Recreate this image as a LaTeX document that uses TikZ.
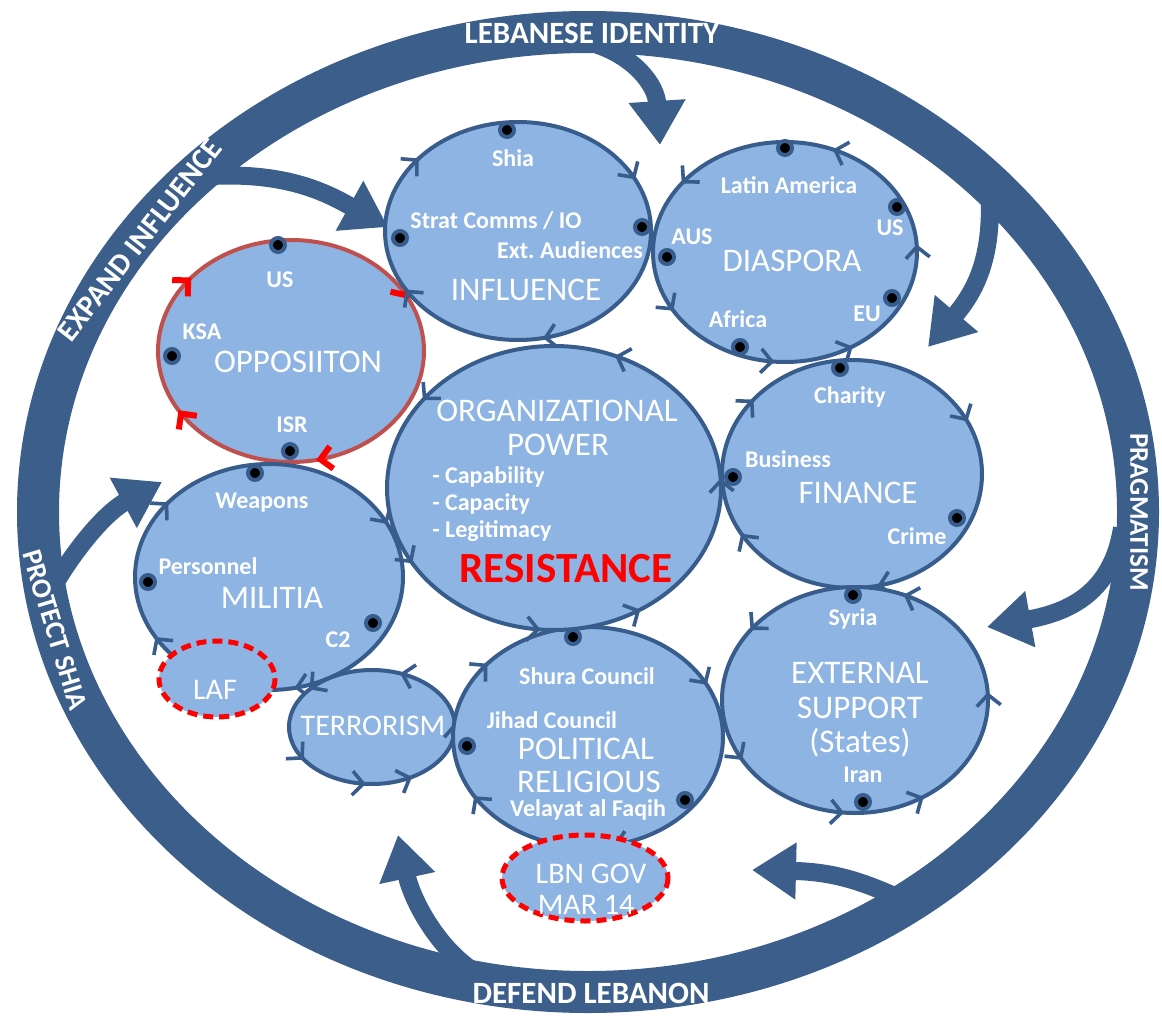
\documentclass[tikz,border=0pt]{standalone}
\usepackage{fontspec}
\setmainfont{Carlito}
\usetikzlibrary{arrows.meta,decorations.markings}

\definecolor{ringblue}{RGB}{59,94,139}
\definecolor{edgeblue}{RGB}{56,93,140}
\definecolor{bubblefill}{RGB}{141,180,226}
\definecolor{oppred}{RGB}{192,80,77}

\begin{document}
\begin{tikzpicture}[x=0.5pt,y=-0.5pt,
  flowtip/.tip={Straight Barb[length=5.5pt,width=12pt,line width=1.8pt]},
  stoptip/.tip={Straight Barb[angle=90:8pt,line width=3pt]},
  ring/.style={draw=ringblue, line width=21pt},
  bigarrow/.style={draw=ringblue, line width=9pt, -{Triangle[length=22pt,width=27pt]}},
  bubble/.style={draw=edgeblue, fill=bubblefill, line width=2pt},
  oppbubble/.style={draw=oppred, fill=bubblefill, line width=2pt},
  dashbubble/.style={draw=red, fill=bubblefill, line width=2.5pt, dash pattern=on 5pt off 3pt},
  cwflow/.style={postaction={decorate,decoration={markings,
      mark=at position 0.217 with {\arrow{flowtip}},
      mark=at position 0.417 with {\arrow{flowtip}},
      mark=at position 0.608 with {\arrow{flowtip}},
      mark=at position 0.928 with {\arrow{flowtip}}}}},
  ccwflow/.style={postaction={decorate,decoration={markings,
      mark=at position 0.158 with {\arrowreversed{flowtip}},
      mark=at position 0.264 with {\arrowreversed{flowtip}},
      mark=at position 0.417 with {\arrowreversed{flowtip}},
      mark=at position 0.600 with {\arrowreversed{flowtip}},
      mark=at position 0.814 with {\arrowreversed{flowtip}},
      mark=at position 0.990 with {\arrowreversed{flowtip}}}}},
  stopflow/.style={postaction={decorate,decoration={markings,
      mark=at position 0.217 with {\arrow[red]{stoptip}},
      mark=at position 0.417 with {\arrow[red]{stoptip}},
      mark=at position 0.608 with {\arrow[red]{stoptip}},
      mark=at position 0.928 with {\arrow[red]{stoptip}}}}},
  dot/.style={circle, fill=black, draw=edgeblue, line width=2pt, inner sep=0pt, minimum size=7pt},
  headlbl/.style={text=white, inner sep=0.5pt, font=\fontsize{16.5}{18}\selectfont},
  otherlbl/.style={text=white, inner sep=0.5pt, font=\fontsize{15}{16}\selectfont},
  itemlbl/.style={text=white, inner sep=0.5pt, font=\bfseries\fontsize{12}{13}\selectfont},
  ringlbl/.style={text=white, inner sep=0.5pt, font=\bfseries\fontsize{#1}{#1}\selectfont},
  ringlbl/.default=15]

  % canvas
  \fill[white] (0,0) rectangle (1162,1022);
  \useasboundingbox (0,0) rectangle (1162,1022);

  % outer ring
  \coordinate (mid) at (588,512);
  \draw[ring] (mid) ellipse [x radius=550, y radius=480];

  % thick arrows off the ring
  \coordinate (a1s) at (598,45);   \coordinate (a1e) at (660,145);
  \coordinate (a2s) at (212,176);  \coordinate (a2e) at (388,227);
  \coordinate (a3s) at (989,180);  \coordinate (a3e) at (928,347);
  \coordinate (a4s) at (1122,528); \coordinate (a4e) at (987,627);
  \coordinate (a5s) at (908,902);  \coordinate (a5e) at (752,870);
  \coordinate (a6s) at (485,978);  \coordinate (a6e) at (398,835);
  \coordinate (a7s) at (50,592);   \coordinate (a7e) at (162,482);
  \draw[bigarrow] (a1s) .. controls (635,58) and (656,85) .. (a1e);
  \draw[bigarrow] (a2s) .. controls (290,172) and (330,195) .. (a2e);
  \draw[bigarrow] (a3s) .. controls (993,240) and (985,280) .. (a3e);
  \draw[bigarrow] (a4s) .. controls (1112,592) and (1070,612) .. (a4e);
  \draw[bigarrow] (a5s) .. controls (870,885) and (840,872) .. (a5e);
  \draw[bigarrow] (a6s) .. controls (440,955) and (412,900) .. (a6e);
  \draw[bigarrow] (a7s) .. controls (80,540) and (110,510) .. (a7e);

  % ring labels
  \node[ringlbl=15.5] (identity) at (592,33) {LEBANESE IDENTITY};
  \node[ringlbl=15, rotate=52] (expand) at (140,240) {EXPAND INFLUENCE};
  \node[ringlbl=14, rotate=-73] (protect) at (55,630) {PROTECT SHIA};
  \node[ringlbl=13.5, rotate=-90] (pragma) at (1139,512) {PRAGMATISM};
  \node[ringlbl=15.5] (defend) at (591,993) {DEFEND LEBANON};

  % bubbles
  \coordinate (opp) at (291,351);
  \coordinate (infl) at (518,231);
  \coordinate (dias) at (785,252);
  \coordinate (fin) at (852,474);
  \coordinate (ext) at (855,700);
  \coordinate (mil) at (269,577);
  \coordinate (terr) at (372,727);
  \coordinate (pol) at (588,737);
  \coordinate (org) at (554,488);
  \coordinate (laf) at (217,679);
  \coordinate (gov) at (585,878);
  \draw[oppbubble, stopflow] (opp) ellipse [x radius=133, y radius=111];
  \draw[bubble, cwflow] (infl) ellipse [x radius=133, y radius=109];
  \draw[bubble, ccwflow] (dias) ellipse [x radius=132, y radius=110];
  \draw[bubble, cwflow] (fin) ellipse [x radius=130, y radius=114];
  \draw[bubble, ccwflow] (ext) ellipse [x radius=133, y radius=113];
  \draw[bubble, cwflow] (mil) ellipse [x radius=134, y radius=113];
  \draw[bubble, ccwflow] (terr) ellipse [x radius=83, y radius=57];
  \draw[bubble, cwflow] (pol) ellipse [x radius=135, y radius=110];
  \draw[bubble, ccwflow] (org) ellipse [x radius=167, y radius=142];
  \draw[dashbubble] (laf) ellipse [x radius=58, y radius=38];
  \draw[dashbubble] (gov) ellipse [x radius=83, y radius=43];

  % member dots
  \foreach \p [count=\i] in {(507,130),(400,238),(642,227),
      (785,148),(897,207),(667,257),(892,298),(740,347),
      (278,245),(172,356),(290,451),
      (840,368),(733,477),(957,518),
      (255,473),(148,582),(373,623),
      (853,595),(863,802),
      (573,637),(467,746),(685,800)}
    \node[dot] (dot\i) at \p {};

  % influence
  \node[itemlbl] (shia) at (513,158) {Shia};
  \node[itemlbl] (strat) at (496,221) {Strat Comms / IO};
  \node[itemlbl] (audi) at (570,250) {Ext.\ Audiences};
  \node[headlbl] (inflT) at (526,290) {INFLUENCE};

  % diaspora
  \node[itemlbl] (latam) at (789,185) {Latin America};
  \node[itemlbl] (aus) at (692,237) {AUS};
  \node[itemlbl] (usD) at (890,228) {US};
  \node[headlbl] (diasT) at (792,261) {DIASPORA};
  \node[itemlbl] (africa) at (738,319) {Africa};
  \node[itemlbl] (eu) at (867,314) {EU};

  % opposition
  \node[itemlbl] (usO) at (280,280) {US};
  \node[itemlbl] (ksa) at (202,332) {KSA};
  \node[headlbl] (oppT) at (298,362) {OPPOSIITON};
  \node[itemlbl] (isr) at (292,425) {ISR};

  % organizational power
  \node[headlbl] (orgT) at (557,411) {ORGANIZATIONAL};
  \node[headlbl] (power) at (558,445) {POWER};
  \node[itemlbl, anchor=west] (capab) at (431,477) {- Capability};
  \node[itemlbl, anchor=west] (capac) at (431,504) {- Capacity};
  \node[itemlbl, anchor=west] (legit) at (431,531) {- Legitimacy};
  \node[text=red, inner sep=0.5pt, font=\bfseries\fontsize{21.5}{22}\selectfont] (resist) at (566,569) {RESISTANCE};

  % finance
  \node[itemlbl] (charity) at (850,397) {Charity};
  \node[itemlbl] (business) at (788,459) {Business};
  \node[headlbl] (finT) at (858,493) {FINANCE};
  \node[itemlbl] (crime) at (917,536) {Crime};

  % militia
  \node[itemlbl] (weapons) at (262,503) {Weapons};
  \node[itemlbl] (person) at (208,566) {Personnel};
  \node[headlbl] (milT) at (272,598) {MILITIA};
  \node[itemlbl] (ctwo) at (338,640) {C2};

  % external support
  \node[itemlbl] (syria) at (853,619) {Syria};
  \node[headlbl] (extT) at (860,673) {EXTERNAL};
  \node[headlbl] (supp) at (860,708) {SUPPORT};
  \node[headlbl] (states) at (860,743) {(States)};
  \node[itemlbl] (iran) at (863,775) {Iran};

  % political religious
  \node[itemlbl] (shura) at (587,676) {Shura Council};
  \node[itemlbl] (jihad) at (552,720) {Jihad Council};
  \node[headlbl] (polT) at (586,749) {POLITICAL};
  \node[headlbl] (relig) at (589,782) {RELIGIOUS};
  \node[itemlbl] (velayat) at (588,810) {Velayat al Faqih};

  % others
  \node[otherlbl] (terrT) at (373,726) {TERRORISM};
  \node[otherlbl] (lafT) at (215,690) {LAF};
  \node[otherlbl] (govT) at (591,874) {LBN GOV};
  \node[otherlbl] (marT) at (586,905) {MAR 14};
\end{tikzpicture}
\end{document}
